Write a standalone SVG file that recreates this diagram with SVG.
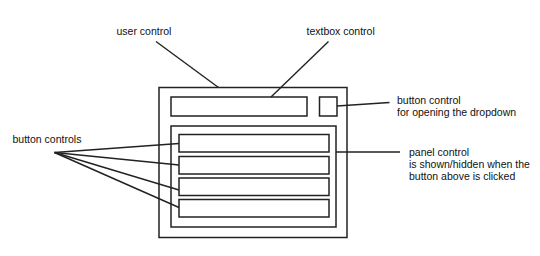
<svg xmlns="http://www.w3.org/2000/svg" width="540" height="256" viewBox="0 0 540 256">
<style>
.box{fill:none;stroke:#222;stroke-width:1.5}
.ln{stroke:#222;stroke-width:1.4;fill:none}
text{font-family:"Liberation Sans",Arial,sans-serif;font-size:10.5px;fill:#111}
</style>
<rect width="540" height="256" fill="#fff"/>
<g id="user-control"><rect class="box" x="159" y="87.5" width="188" height="150"/></g>
<g id="textbox"><rect class="box" x="171" y="97" width="136" height="19"/></g>
<g id="dropdown-button"><rect class="box" x="319.5" y="97" width="17.5" height="19"/></g>
<g id="panel"><rect class="box" x="171" y="126" width="165" height="101"/></g>
<g id="button1"><rect class="box" x="179" y="134.5" width="150" height="17.5"/></g>
<g id="button2"><rect class="box" x="179" y="156.5" width="150" height="17.5"/></g>
<g id="button3"><rect class="box" x="179" y="178" width="150" height="17.5"/></g>
<g id="button4"><rect class="box" x="179" y="199.5" width="150" height="17.5"/></g>
<g id="labels">
<text x="116.5" y="35">user control</text>
<text x="306.5" y="35">textbox control</text>
<text x="397" y="104">button control</text>
<text x="397" y="116">for opening the dropdown</text>
<text x="409" y="155.5">panel control</text>
<text x="409" y="167.5">is shown/hidden when the</text>
<text x="409" y="179.5">button above is clicked</text>
<text x="12.5" y="142.5">button controls</text>
</g>
<g id="connectors">
<line class="ln" x1="156" y1="41.5" x2="218.5" y2="87.5"/>
<line class="ln" x1="328.5" y1="41.5" x2="271" y2="97"/>
<line class="ln" x1="337" y1="106" x2="389.5" y2="102.5"/>
<line class="ln" x1="336" y1="152" x2="400" y2="152"/>
<line class="ln" x1="54.5" y1="152.5" x2="179" y2="143.5"/>
<line class="ln" x1="54.5" y1="152.5" x2="179" y2="165"/>
<line class="ln" x1="54.5" y1="152.5" x2="179" y2="190"/>
<line class="ln" x1="54.5" y1="152.5" x2="179" y2="207.5"/>
</g>
</svg>
